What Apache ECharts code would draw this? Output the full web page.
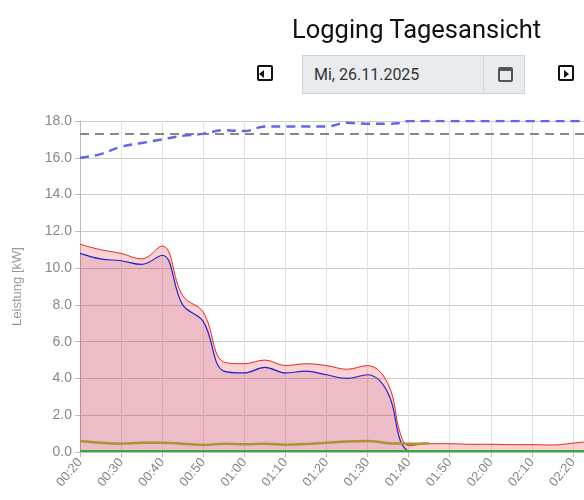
<!DOCTYPE html>
<html><head><meta charset="utf-8">
<script src="https://cdn.jsdelivr.net/npm/echarts@6/dist/echarts.min.js"></script>
<style>
body{margin:0;font-family:Roboto,"Noto Sans",sans-serif;background:#fff;overflow:hidden}
#chart{position:absolute;left:0;top:0;width:584px;height:500px}
#title{position:absolute;left:292px;top:14px;font-size:25.5px;color:#111}
.btn{position:absolute;top:65px;width:16px;height:16px;border:2px solid #111;border-radius:2px;box-sizing:border-box}
.btn:after{content:"";position:absolute;top:3px;border:4px solid transparent}
#prev{left:257px}#prev:after{left:0;border-right:5px solid #111;border-left:0}
#next{left:558px}#next:after{left:4px;border-left:5px solid #111;border-right:0}
#date{position:absolute;left:302px;top:55px;width:182px;height:39px;background:#e9ecef;border:1px solid #ced4da;box-sizing:border-box;font-size:16px;color:#333;line-height:37px;padding-left:11px}
#cal{position:absolute;left:483px;top:55px;width:42px;height:39px;background:#e9ecef;border:1px solid #ced4da;box-sizing:border-box}
#cal div{position:absolute;left:14px;top:11px;width:15px;height:15px;border:2px solid #555;border-top-width:4px;border-radius:2px;box-sizing:border-box}
</style></head><body>
<div id="chart"></div>
<div id="title">Logging Tagesansicht</div>
<div class="btn" id="prev"></div>
<div id="date">Mi, 26.11.2025</div>
<div id="cal"><div></div></div>
<div class="btn" id="next"></div>
<script>
// minutes after midnight
const times = [20,25,30,35,40,45,50,55,60,65,70,75,80,85,90,95,98,100,105,110,115,120,125,130,135,140,143];
const total = [11.3,11.0,10.8,10.5,11.2,8.5,7.6,4.9,4.8,5.0,4.7,4.8,4.7,4.5,4.7,3.7,1.0,0.35,0.45,0.45,0.42,0.42,0.4,0.4,0.38,0.48,0.55];
const pv =    [10.8,10.5,10.4,10.2,10.7,8.0,7.1,4.4,4.3,4.6,4.3,4.4,4.2,4.0,4.2,3.2,0.6,0.0];
const house = [0.6,0.5,0.45,0.5,0.5,0.45,0.38,0.45,0.42,0.45,0.4,0.43,0.5,0.57,0.6,0.48,0.46,0.45,0.48];
const grid =  [0.05,0.05,0.05,0.05,0.05,0.05,0.05,0.05,0.05,0.05,0.05,0.05,0.05,0.05,0.05,0.05,0.05,0.05,0.05,0.05,0.05,0.05,0.05,0.05,0.05,0.05,0.05];
const soc =   [16.0,16.2,16.6,16.8,17.0,17.2,17.3,17.5,17.45,17.7,17.7,17.7,17.7,17.9,17.85,17.85,17.9,18.0,18.0,18.0,18.0,18.0,18.0,18.0,18.0,18.0,18.0];
const limit = 17.3;

const pair = (vals) => vals.map((v, i) => [times[i], v]);
const fmt = (m) => String(Math.floor(m / 60)).padStart(2, '0') + ':' + String(m % 60).padStart(2, '0');

const chart = echarts.init(document.getElementById('chart'));
chart.setOption({
  animation: false,
  grid: { left: 80, right: 0, top: 121, bottom: 48 },
  xAxis: {
    type: 'value', min: 20, max: 142.7, interval: 10,
    axisLabel: { rotate: 50, color: '#888', fontSize: 13, formatter: fmt, showMaxLabel: false, margin: 8 },
    axisLine: { show: true, lineStyle: { color: '#bbb' } },
    axisTick: { show: true, length: 5, lineStyle: { color: '#bbb' } },
    splitLine: { lineStyle: { color: '#e2e2e2' } },
  },
  yAxis: {
    type: 'value', min: 0, max: 18, interval: 2,
    name: 'Leistung [kW]', nameLocation: 'middle', nameGap: 56,
    nameTextStyle: { color: '#999', fontSize: 13 },
    axisLabel: { color: '#888', fontSize: 14, formatter: (v) => v.toFixed(1) },
    axisLine: { show: true, lineStyle: { color: '#bbb' } },
    axisTick: { show: true, length: 5, lineStyle: { color: '#bbb' } },
    splitLine: { lineStyle: { color: '#ccc' } },
  },
  series: [
    { type: 'line', data: pair(total), smooth: 0.4, symbol: 'none', z: 2,
      lineStyle: { color: '#e8271b', width: 1 }, areaStyle: { color: 'rgba(240,40,50,0.3)' } },
    { type: 'line', data: pair(pv), smooth: 0.4, symbol: 'none', z: 3,
      lineStyle: { color: '#2222cc', width: 1.2 }, areaStyle: { color: 'rgba(120,20,90,0.16)' } },
    { type: 'line', data: pair(house), smooth: 0.4, symbol: 'none', z: 4,
      lineStyle: { color: '#a8953a', width: 2.5 } },
    { type: 'line', data: pair(grid), symbol: 'none', z: 5,
      lineStyle: { color: '#3aa83a', width: 2 } },
    { type: 'line', data: pair(soc), smooth: 0.4, symbol: 'none', z: 6,
      lineStyle: { color: '#6464ee', width: 2.5, type: [9, 6] },
      markLine: { symbol: 'none', silent: true, label: { show: false },
        lineStyle: { color: '#888', width: 2, type: [9, 6] }, data: [{ yAxis: limit }] } },
  ],
});
</script>
</body></html>
